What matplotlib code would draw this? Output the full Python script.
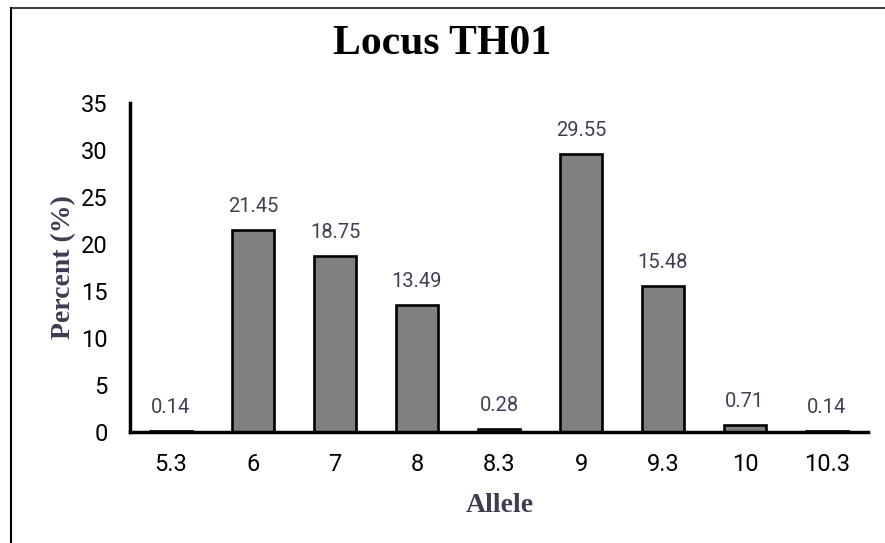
import matplotlib
matplotlib.use("Agg")
import matplotlib.pyplot as plt
from matplotlib.lines import Line2D

# データ
alleles = ["5.3", "6", "7", "8", "8.3", "9", "9.3", "10", "10.3"]
percent = [0.14, 21.45, 18.75, 13.49, 0.28, 29.55, 15.48, 0.71, 0.14]
yticks = [0, 5, 10, 15, 20, 25, 30, 35]

label_color = "#3d3d52"

fig = plt.figure(figsize=(8.85, 5.43), dpi=100)
ax = fig.add_axes([130 / 885, 1 - 432 / 543, 738 / 885, 329 / 543])

x = range(len(alleles))
bars = ax.bar(x, percent, width=0.52, color="#808080", edgecolor="black", linewidth=1.9, zorder=3)

# 値ラベル
for xi, v in zip(x, percent):
    ax.text(xi, v + 1.5, f"{v:.2f}", ha="center", va="bottom",
            fontsize=14.5, family="Roboto", color="#404052")

ax.set_xlim(-0.5, len(alleles) - 0.5)
ax.set_ylim(0, 35)
ax.set_xticks(list(x))
ax.set_xticklabels(alleles, family="Roboto", fontsize=17)
ax.set_yticks(yticks)
ax.set_yticklabels([str(t) for t in yticks], family="Roboto", fontsize=17)
ax.tick_params(length=0)
ax.tick_params(axis="x", pad=15)
ax.tick_params(axis="y", pad=16)

for s in ["top", "right"]:
    ax.spines[s].set_visible(False)
for s in ["left", "bottom"]:
    ax.spines[s].set_linewidth(2.5)
    ax.spines[s].set_zorder(4)

ax.set_ylabel("Percent (%)", family="Liberation Serif", fontweight="bold",
              fontsize=20, color=label_color)
ax.yaxis.set_label_coords(-0.073, 0.5)
ax.set_xlabel("Allele", family="Liberation Serif", fontweight="bold",
              fontsize=20, color=label_color)
ax.xaxis.set_label_coords(0.501, -0.185)

fig.text(0.5, 1 - 44 / 543, "Locus TH01", ha="center", va="center",
         family="Liberation Serif", fontweight="bold", fontsize=30)

# 外枠（上と左のみ）
fig.add_artist(Line2D([11 / 885, 1], [1 - 8 / 543, 1 - 8 / 543], color="#404040", lw=1.5))
fig.add_artist(Line2D([11 / 885, 11 / 885], [0, 1 - 8 / 543], color="black", lw=1.5))

fig.savefig("out.png", dpi=100)
